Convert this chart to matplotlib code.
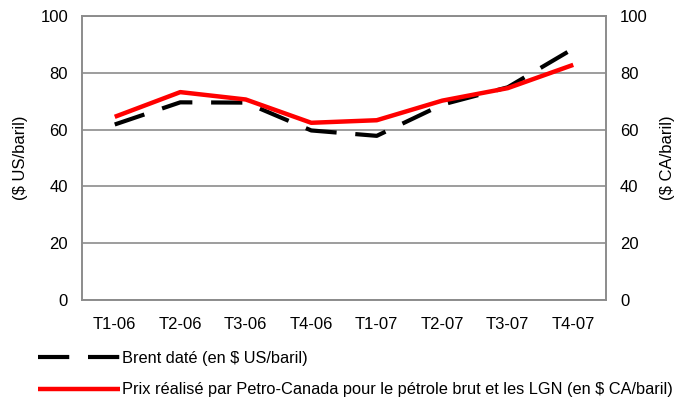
import matplotlib.pyplot as plt

plt.rcParams['font.family'] = ['Liberation Sans', 'DejaVu Sans']

quarters = ['T1-06', 'T2-06', 'T3-06', 'T4-06', 'T1-07', 'T2-07', 'T3-07', 'T4-07']
brent_usd = [61.8, 69.6, 69.5, 59.7, 57.8, 68.8, 74.9, 88.5]
petrocan_cad = [64.5, 73.2, 70.6, 62.4, 63.3, 70.2, 74.6, 82.8]

GRID = '#8c8c8c'

fig = plt.figure(figsize=(6.76, 4.0), dpi=100)
ax = fig.add_axes([82 / 676, 100 / 400, 524 / 676, 284 / 400])
ax2 = ax.twinx()

x = [i + 0.5 for i in range(len(quarters))]

brent_line, = ax.plot(x, brent_usd, color='black', lw=3, dashes=(7.5, 4.5),
                      dash_capstyle='butt', solid_capstyle='butt',
                      label='Brent daté (en $ US/baril)')
pc_line, = ax2.plot(x, petrocan_cad, color='#ff0000', lw=3.2,
                    solid_capstyle='butt', solid_joinstyle='round',
                    label='Prix réalisé par Petro-Canada pour le pétrole brut et les LGN (en $ CA/baril)')

for a in (ax, ax2):
    a.set_xlim(0, len(quarters))
    a.set_ylim(0, 100)
    a.set_yticks(range(0, 101, 20))
    for s in a.spines.values():
        s.set_color(GRID)
        s.set_linewidth(1.2)

ax.yaxis.grid(True, color=GRID, lw=1.2)
ax.set_axisbelow(True)
ax.set_xticks(x)
ax.set_xticklabels(quarters)
ax.tick_params(axis='x', length=0, pad=12, labelsize=12)
ax.tick_params(axis='y', length=0, pad=10, labelsize=12)
ax2.tick_params(axis='y', length=0, pad=10, labelsize=12)

ax.set_ylabel('($ US/baril)', fontsize=12, labelpad=9)
ax2.set_ylabel('($ CA/baril)', fontsize=12, labelpad=9)

# legend stacked under the axis, one entry per row
fig.legend(handles=[brent_line, pc_line], loc='upper left',
           bbox_to_anchor=(38 / 676, 1 - 351 / 400), frameon=False,
           fontsize=11.8, handlelength=5.0, handletextpad=0.15,
           labelspacing=1.0, borderpad=0, borderaxespad=0)

fig.savefig('out.png', dpi=100)
